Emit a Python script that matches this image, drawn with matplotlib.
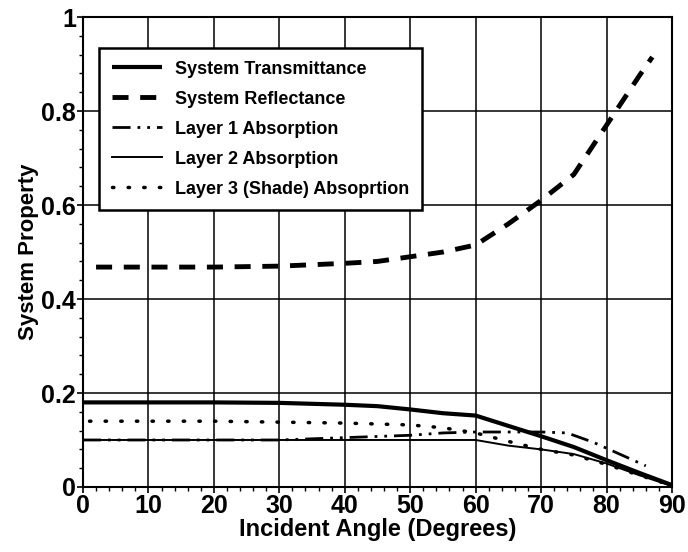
import matplotlib.pyplot as plt
import numpy as np
from matplotlib.ticker import MultipleLocator

# =============================================================================
# Data
# =============================================================================

trans_x = [0, 10, 20, 30, 40, 45, 50, 55, 60, 65, 70, 75, 80, 85, 90]
trans_y = [0.18, 0.18, 0.18, 0.179, 0.175, 0.172, 0.165, 0.157, 0.152, 0.13, 0.108, 0.085, 0.057, 0.03, 0.004]

refl_x = [2, 10, 20, 30, 40, 45, 50, 55, 60, 65, 70, 75, 80, 85, 87]
refl_y = [0.468, 0.468, 0.468, 0.47, 0.476, 0.48, 0.49, 0.50, 0.515, 0.56, 0.61, 0.665, 0.77, 0.875, 0.915]

layer1_x = [0, 10, 20, 30, 40, 50, 55, 60, 65, 70, 74, 78, 82, 86]
layer1_y = [0.10, 0.10, 0.10, 0.10, 0.105, 0.11, 0.115, 0.117, 0.117, 0.117, 0.115, 0.095, 0.07, 0.045]

layer2_x = [0, 10, 20, 30, 40, 50, 60, 65, 70, 75, 80, 85, 90]
layer2_y = [0.10, 0.10, 0.10, 0.10, 0.10, 0.10, 0.10, 0.088, 0.08, 0.07, 0.05, 0.025, 0.002]

layer3_x = [1, 10, 20, 30, 40, 50, 55, 60, 65, 70, 75, 80, 85, 90]
layer3_y = [0.14, 0.14, 0.14, 0.138, 0.136, 0.132, 0.126, 0.115, 0.097, 0.08, 0.068, 0.048, 0.025, 0.003]

labels = ['System Transmittance', 'System Reflectance', 'Layer 1 Absorption',
          'Layer 2 Absorption', 'Layer 3 (Shade) Absoprtion']

# =============================================================================
# Plot
# =============================================================================

plt.rcParams['font.family'] = 'Liberation Sans'
plt.rcParams['font.weight'] = 'bold'

fig = plt.figure(figsize=(6.88, 5.52), dpi=100)
ax = fig.add_axes([0.1206, 0.1178, 0.8561, 0.8512])

ax.plot(trans_x, trans_y, color='k', lw=3.0, label=labels[0], solid_capstyle='butt')
ax.plot(refl_x, refl_y, color='k', lw=3.5, dashes=(3.3, 2.4), label=labels[1])
ax.plot(layer1_x, layer1_y, color='k', lw=2.0, dashes=(6.5, 2.5, 1, 2.5, 1, 2.5), label=labels[2])
ax.plot(layer2_x, layer2_y, color='k', lw=1.4, label=labels[3])
ax.plot(layer3_x, layer3_y, color='k', lw=2.5, dashes=(0.4, 4.1), dash_capstyle='round', label=labels[4])

ax.set_xlim(0, 90)
ax.set_ylim(0, 1)
ax.xaxis.set_major_locator(MultipleLocator(10))
ax.xaxis.set_minor_locator(MultipleLocator(2))
ax.yaxis.set_major_locator(MultipleLocator(0.2))
ax.yaxis.set_minor_locator(MultipleLocator(0.04))
ax.set_yticks([0, 0.2, 0.4, 0.6, 0.8, 1])
ax.set_yticklabels(['0', '0.2', '0.4', '0.6', '0.8', '1'])

ax.grid(True, which='major', color='k', lw=1.1)
ax.tick_params(which='major', direction='out', length=4, width=1.2, labelsize=18, pad=1)
ax.tick_params(which='minor', direction='out', length=3, width=1)
for s in ax.spines.values():
    s.set_linewidth(1.5)

ax.set_xlabel('Incident Angle (Degrees)', fontsize=17, fontweight='bold', labelpad=0)
ax.set_ylabel('System Property', fontsize=16, fontweight='bold', labelpad=2)

leg = ax.legend(loc='upper left', bbox_to_anchor=(0.027, 0.934), fontsize=13,
                handlelength=2.8, labelspacing=0.72, borderaxespad=0, fancybox=False,
                framealpha=1, edgecolor='k', borderpad=0.7, handletextpad=0.7)
leg.get_frame().set_linewidth(1.8)

plt.savefig('out.png', dpi=100)
